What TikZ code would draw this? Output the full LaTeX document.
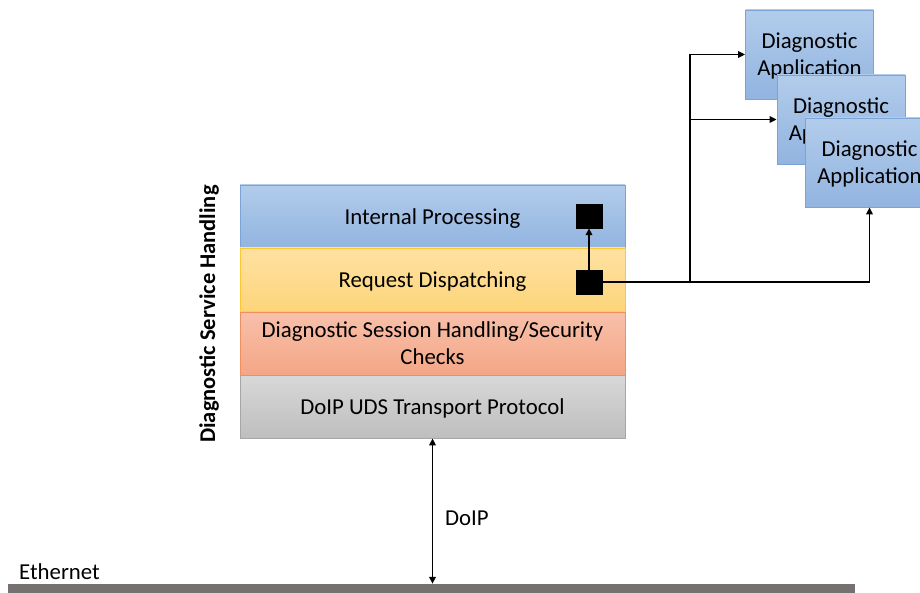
\documentclass[tikz,border=0pt]{standalone}
\usepackage{fontspec}
\setmainfont{Carlito}
\usetikzlibrary{arrows.meta}
\definecolor{bluetop}{HTML}{B2CCEB}
\definecolor{bluebot}{HTML}{92B4E0}
\definecolor{blueline}{HTML}{7BA3D8}
\definecolor{yeltop}{HTML}{FEE1A2}
\definecolor{yelbot}{HTML}{FDD57A}
\definecolor{yelline}{HTML}{FFC533}
\definecolor{saltop}{HTML}{F8C0AA}
\definecolor{salbot}{HTML}{F4A686}
\definecolor{salline}{HTML}{F0905F}
\definecolor{graytop}{HTML}{D8D8D8}
\definecolor{graybot}{HTML}{BEBEBE}
\definecolor{grayline}{HTML}{A6A6A6}
\definecolor{ethcol}{HTML}{767171}
\tikzset{
  layer/.style={draw, line width=0.8pt, minimum width=385pt, minimum height=63pt, inner sep=0pt, text depth=0pt, align=center, font=\fontsize{22.8}{27}\selectfont},
  bluelayer/.style={layer, draw=blueline, top color=bluetop, bottom color=bluebot},
  yellayer/.style={layer, draw=yelline, top color=yeltop, bottom color=yelbot},
  sallayer/.style={layer, draw=salline, top color=saltop, bottom color=salbot},
  graylayer/.style={layer, draw=grayline, top color=graytop, bottom color=graybot},
  appbox/.style={draw=blueline, line width=0.8pt, top color=bluetop, bottom color=bluebot, minimum width=128pt, minimum height=89pt, inner sep=0pt, text depth=0pt, align=center, font=\fontsize{22.8}{27}\selectfont},
  blk/.style={fill=black, draw=black, minimum width=26pt, minimum height=24pt, inner sep=0pt},
  conn/.style={line width=1.7pt, draw=black},
  arr/.style={conn, -{Triangle[length=7pt,width=6.5pt]}},
  darr/.style={conn, {Triangle[length=7pt,width=6.5pt]}-{Triangle[length=7pt,width=6.5pt]}},
  lbl/.style={font=\fontsize{22.8}{27}\selectfont, inner sep=0pt}
}
\begin{document}
\begin{tikzpicture}[x=1pt,y=-1pt]
\useasboundingbox (0,0) rectangle (920,593);
\clip (0,0) rectangle (920,593);
% layers
\node[bluelayer] (ip) at (432.5,216.5) {Internal Processing};
\node[yellayer]  (rd) at (432.5,280) [minimum height=64pt] {Request Dispatching};
\node[sallayer]  (ds) at (432.5,343.5) {Diagnostic Session Handling/Security\\Checks};
\node[graylayer] (tp) at (432.5,406.5) {DoIP UDS Transport Protocol};
% side label
\node[lbl, rotate=90, font=\bfseries\fontsize{22.5}{27}\selectfont] (dsh) at (209,314) {Diagnostic Service Handling};
% black squares
\node[blk] (sq1) at (589,216) {};
\node[blk] (sq2) at (589,282) {};
\draw[arr] (sq2.north) -- (sq1.south);
% applications
\node[appbox] (app1) at (809.5,54.5) {Diagnostic\\Application};
\node[appbox] (app2) at (841,119.5) {Diagnostic\\Application};
\node[appbox] (app3) at (869.5,162.5) {Diagnostic\\Application};
% connectors
\coordinate (br) at (690,282);
\draw[arr] (sq2.east) -| (app3.south);
\draw[arr] (br) |- (app1.west);
\draw[arr] (br) |- (app2.west);
% ethernet
\node[fill=ethcol, minimum width=847pt, minimum height=9pt, inner sep=0pt] (eth) at (431.5,588.5) {};
\node[lbl, anchor=south west] (ethl) at (19,580) {Ethernet};
\draw[darr] (tp.south) -- (tp.south |- eth.north);
\node[lbl, anchor=west] (doip) at (445,518) {DoIP};
\end{tikzpicture}
\end{document}
